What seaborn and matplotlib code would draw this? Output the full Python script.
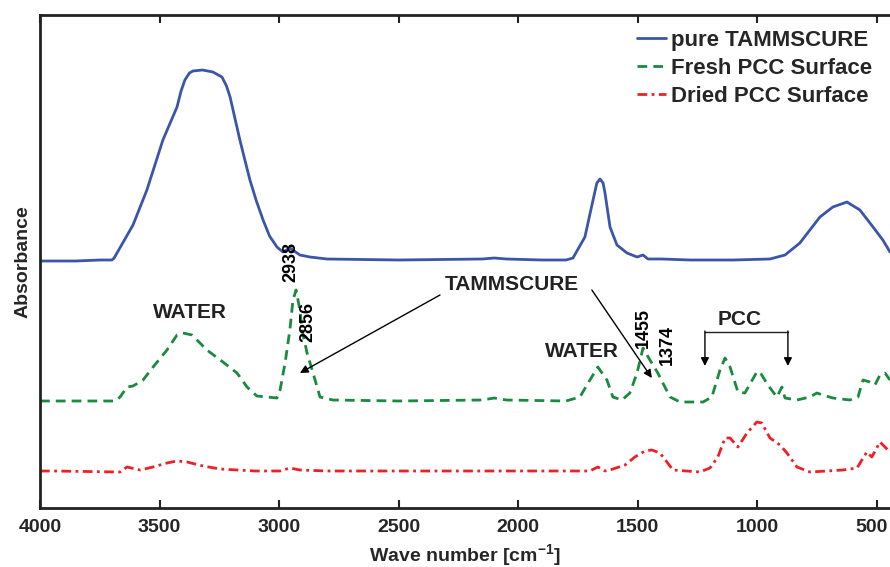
import matplotlib
matplotlib.use("Agg")
import matplotlib.pyplot as plt
import matplotlib.transforms as mtrans
import seaborn as sns
import pandas as pd

# ---------------- data ----------------
pure_wn = [4000, 3850, 3750, 3699, 3690, 3611, 3553, 3486, 3427, 3410, 3394, 3375, 3360,
           3320, 3277, 3239, 3220, 3205, 3185, 3164, 3140, 3122, 3095, 3067, 3040, 3009,
           2984, 2955, 2913, 2871, 2800, 2500, 2150, 2100, 2050, 1900, 1800, 1771, 1721,
           1687, 1671, 1658, 1645, 1637, 1616, 1587, 1545, 1503, 1478, 1457, 1399, 1282,
           1100, 947, 884, 822, 738, 684, 625, 571, 516, 475, 445]
pure_abs = [2.47, 2.47, 2.48, 2.48, 2.50, 2.83, 3.18, 3.68, 4.01, 4.17, 4.28, 4.35, 4.37,
            4.38, 4.36, 4.31, 4.22, 4.11, 3.90, 3.68, 3.45, 3.28, 3.07, 2.88, 2.72, 2.61,
            2.56, 2.60, 2.53, 2.51, 2.49, 2.48, 2.49, 2.50, 2.49, 2.48, 2.48, 2.50, 2.71,
            3.08, 3.25, 3.29, 3.25, 3.15, 2.81, 2.63, 2.55, 2.51, 2.53, 2.49, 2.49, 2.48,
            2.48, 2.49, 2.53, 2.65, 2.91, 3.01, 3.06, 2.98, 2.81, 2.68, 2.56]

fresh_wn = [4000, 3800, 3686, 3665, 3636, 3611, 3569, 3527, 3469, 3427, 3402, 3364, 3302,
            3235, 3176, 3134, 3093, 3051, 3009, 2996, 2975, 2955, 2942, 2929, 2913, 2904,
            2883, 2858, 2829, 2775, 2500, 2150, 2100, 2050, 1800, 1742, 1700, 1667, 1629,
            1604, 1566, 1533, 1503, 1478, 1449, 1416, 1395, 1365, 1323, 1227, 1190, 1156,
            1135, 1114, 1081, 1052, 1002, 989, 956, 918, 897, 884, 834, 780, 751, 726, 684,
            613, 579, 558, 529, 508, 487, 466, 445]
fresh_abs = [1.07, 1.07, 1.07, 1.11, 1.21, 1.22, 1.28, 1.41, 1.58, 1.73, 1.75, 1.73, 1.58,
             1.46, 1.35, 1.21, 1.12, 1.11, 1.10, 1.18, 1.45, 1.78, 2.08, 2.18, 1.98, 1.78,
             1.55, 1.35, 1.11, 1.08, 1.07, 1.08, 1.10, 1.08, 1.07, 1.11, 1.28, 1.41, 1.28,
             1.11, 1.08, 1.15, 1.35, 1.60, 1.48, 1.35, 1.25, 1.11, 1.06, 1.06, 1.11, 1.38,
             1.50, 1.41, 1.16, 1.15, 1.36, 1.36, 1.23, 1.11, 1.21, 1.10, 1.08, 1.11, 1.15,
             1.13, 1.10, 1.08, 1.11, 1.28, 1.26, 1.23, 1.33, 1.35, 1.28]

dried_wn = [4000, 3946, 3665, 3636, 3582, 3527, 3469, 3427, 3385, 3318, 3247, 3100, 2996,
            2955, 2913, 2800, 2000, 1700, 1667, 1637, 1616, 1553, 1512, 1470, 1441, 1407,
            1378, 1353, 1240, 1198, 1165, 1135, 1114, 1081, 1043, 1002, 981, 947, 905, 876,
            834, 780, 709, 642, 583, 542, 521, 487, 445]
dried_abs = [0.37, 0.37, 0.36, 0.41, 0.38, 0.41, 0.45, 0.47, 0.46, 0.42, 0.39, 0.37, 0.37,
             0.40, 0.38, 0.37, 0.37, 0.37, 0.41, 0.37, 0.38, 0.43, 0.51, 0.57, 0.58, 0.55,
             0.46, 0.38, 0.36, 0.40, 0.51, 0.70, 0.70, 0.61, 0.75, 0.86, 0.85, 0.70, 0.63,
             0.55, 0.41, 0.36, 0.37, 0.38, 0.40, 0.56, 0.51, 0.66, 0.56]

series_labels = ["pure TAMMSCURE", "Fresh PCC Surface", "Dried PCC Surface"]
x_ticks = [4000, 3500, 3000, 2500, 2000, 1500, 1000, 500]

# ---------------- styling ----------------
sns.set_theme(style="white")
plt.rcParams["font.family"] = ["Liberation Sans", "DejaVu Sans"]
plt.rcParams["mathtext.fontset"] = "custom"
plt.rcParams["mathtext.rm"] = "Liberation Sans:bold"
plt.rcParams["mathtext.it"] = "Liberation Sans:bold"
plt.rcParams["mathtext.bf"] = "Liberation Sans:bold"

fig = plt.figure(figsize=(8.9, 5.67), dpi=100)
ax = fig.add_axes([40 / 890, 1 - 508 / 567, 1 - 40 / 890, (508 - 15) / 567])

c_blue, c_green, c_red = "#3b55a8", "#198a3e", "#ec2128"

df_p = pd.DataFrame({"wn": pure_wn, "A": pure_abs})
df_f = pd.DataFrame({"wn": fresh_wn, "A": fresh_abs})
df_d = pd.DataFrame({"wn": dried_wn, "A": dried_abs})

sns.lineplot(data=df_p, x="wn", y="A", sort=False, ax=ax, color=c_blue, lw=2.0,
             label=series_labels[0])
sns.lineplot(data=df_f, x="wn", y="A", sort=False, ax=ax, color=c_green, lw=2.0,
             label=series_labels[1], linestyle=(0, (3.5, 2.2)))
sns.lineplot(data=df_d, x="wn", y="A", sort=False, ax=ax, color=c_red, lw=2.0,
             label=series_labels[2], linestyle=(0, (3.5, 1.6, 1.0, 1.6)))

ax.set_xlim(4000, 445)
ax.set_ylim(0, 4.93)
ax.set_xticks(x_ticks)
ax.set_xticklabels([str(t) for t in x_ticks], fontsize=14, fontweight="bold")
ax.set_yticks([])
ax.tick_params(axis="x", direction="in", length=6, width=1.5, color="#222222",
               top=True, bottom=True, pad=8)
# keep the last tick label inside the figure (as in the reference)
last = ax.get_xticklabels()[-1]
last.set_transform(last.get_transform() + mtrans.ScaledTranslation(-5 / 100, 0, fig.dpi_scale_trans))

for s in ["left", "bottom", "top"]:
    ax.spines[s].set_linewidth(2.0)
    ax.spines[s].set_color("#222222")
ax.spines["right"].set_visible(False)

ax.set_xlabel(r"Wave number [cm$^{-1}$]", fontsize=14, fontweight="bold", labelpad=4)
ax.set_ylabel("Absorbance", fontsize=14, fontweight="bold", labelpad=6)

leg = ax.legend(loc="upper right", bbox_to_anchor=(0.997, 0.975),
                bbox_transform=fig.transFigure, frameon=False,
                prop={"size": 16, "weight": "bold"}, handlelength=1.3,
                handletextpad=0.2, labelspacing=0.32, borderpad=0.2)

txt = dict(fontsize=15, fontweight="bold", color="#222222", ha="center", va="center")
ax.text(3373, 1.95, "WATER", **txt)
ax.text(1733, 1.56, "WATER", **txt)
ax.text(2026, 2.23, "TAMMSCURE", **txt)
ax.text(1073, 1.88, "PCC", **txt)

rot = dict(fontsize=13, fontweight="bold", color="black", ha="center", va="center",
           rotation=90)
ax.text(2950, 2.46, "2938", **rot)
ax.text(2879, 1.86, "2856", **rot)
ax.text(1478, 1.80, "1455", **rot)
ax.text(1378, 1.63, "1374", **rot)

arrow = dict(arrowstyle="-|>", color="black", lw=1.0, mutation_scale=12,
             shrinkA=0, shrinkB=0)
ax.annotate("", xy=(2913, 1.35), xytext=(2327, 2.13), arrowprops=arrow)
ax.annotate("", xy=(1441, 1.30), xytext=(1692, 2.18), arrowprops=arrow)

# PCC bracket
ax.plot([1219, 872], [1.76, 1.76], color="#222222", lw=1.0)
ax.annotate("", xy=(1219, 1.42), xytext=(1219, 1.77), arrowprops=arrow)
ax.annotate("", xy=(872, 1.42), xytext=(872, 1.77), arrowprops=arrow)

fig.savefig("out.png", dpi=100)
